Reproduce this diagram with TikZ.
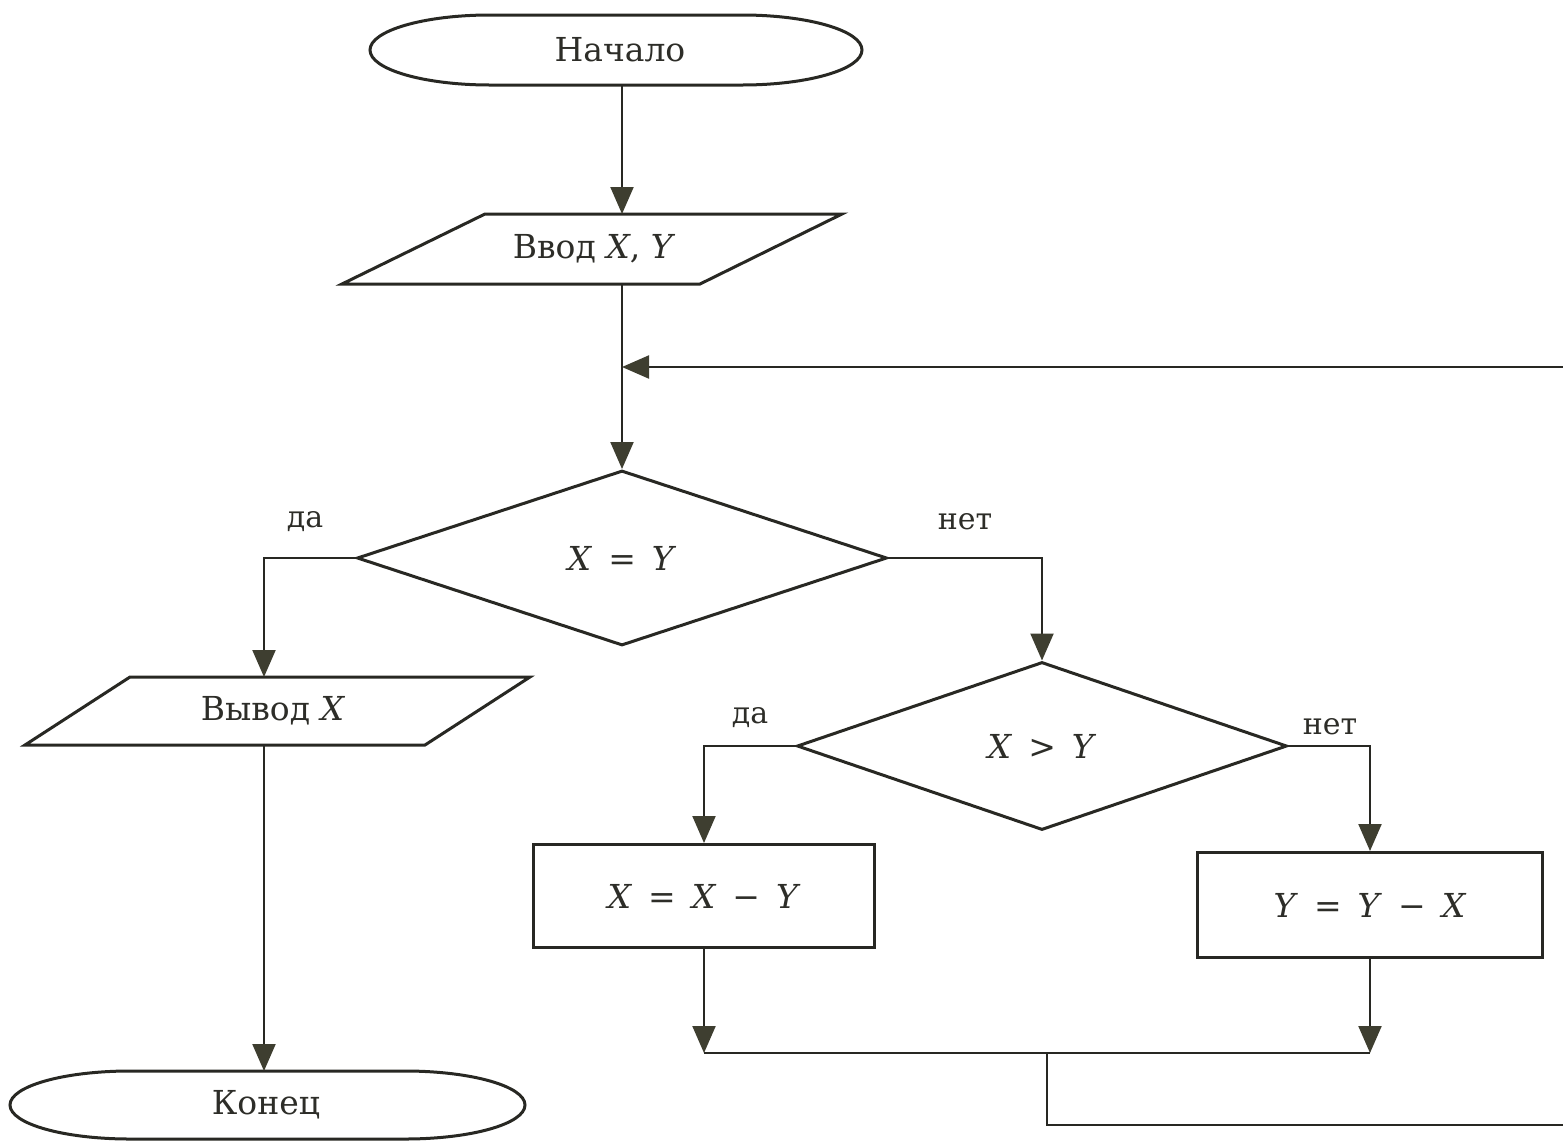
\documentclass[tikz,border=0pt]{standalone}
\usepackage{fontspec}
\setmainfont{DejaVu Serif}
\usetikzlibrary{arrows.meta,shapes.geometric}
\definecolor{lc}{RGB}{40,40,35}
\definecolor{ac}{RGB}{62,62,48}
\definecolor{tc}{RGB}{45,45,40}
\begin{document}
\begin{tikzpicture}[x=1pt,y=1pt,
  shp/.style={draw=lc, line width=3pt, line join=miter},
  conn/.style={draw=lc, line width=2.1pt},
  arr/.style={conn, -{Triangle[length=27pt,width=23pt,color=ac]}},
  txt/.style={font=\fontsize{33}{38}\selectfont, text=tc, inner sep=0pt},
  lbl/.style={font=\fontsize{30}{34}\selectfont, text=tc, inner sep=0pt},
  dia/.style={shp, diamond, txt, aspect=3},
  box/.style={shp, rectangle, txt}
]
\useasboundingbox (0,0) rectangle (1563,-1141);
\fill[white] (0,0) rectangle (1563,-1141);

% Start terminal
\draw[shp] (490,-15) -- (742,-15) arc[start angle=90,end angle=-90,x radius=120,y radius=35]
  -- (490,-85) arc[start angle=270,end angle=90,x radius=120,y radius=35] -- cycle;
\node[txt] (start) at (620,-50) {Начало};
\coordinate (startB) at (622,-85);

% Input
\draw[shp] (485,-214) -- (842,-214) -- (700,-284) -- (342,-284) -- cycle;
\node[txt] (input) at (594,-249) {Ввод \textit{X}, \textit{Y}};
\coordinate (inT) at (622,-214);
\coordinate (inB) at (622,-284);

% Condition 1
\node[dia, minimum width=530pt, minimum height=175pt] (cond1) at (622,-558) {\textit{X}\, = \,\textit{Y}};
\node[lbl] (yes1) at (305,-522) {да};
\node[lbl] (no1) at (965,-522) {нет};

% Output
\draw[shp] (130,-677) -- (530,-677) -- (425,-745) -- (25,-745) -- cycle;
\node[txt] (output) at (273,-711) {Вывод \textit{X}};
\coordinate (outT) at (264,-677);
\coordinate (outB) at (264,-745);

% End terminal
\draw[shp] (130,-1071) -- (405,-1071) arc[start angle=90,end angle=-90,x radius=120,y radius=34]
  -- (130,-1139) arc[start angle=270,end angle=90,x radius=120,y radius=34] -- cycle;
\node[txt] (stop) at (266,-1105) {Конец};
\coordinate (stopT) at (264,-1071);

% Condition 2
\node[dia, minimum width=490pt, minimum height=168pt] (cond2) at (1042,-746) {\textit{X}\, > \,\textit{Y}};
\node[lbl] (yes2) at (750,-718) {да};
\node[lbl] (no2) at (1330,-727) {нет};

% Assignments
\node[box, minimum width=341pt, minimum height=103pt] (as1) at (704,-896) {\textit{X}\, = \,\textit{X}\, − \,\textit{Y}};
\node[box, minimum width=345pt, minimum height=105pt] (as2) at (1370,-905) {\textit{Y}\, = \,\textit{Y}\, − \,\textit{X}};

% Merge and loop points
\coordinate (m1) at (704,-1053);
\coordinate (m2) at (1370,-1053);
\coordinate (mj) at (1047,-1053);
\coordinate (lb) at (1047,-1125);
\coordinate (lr) at (1563,-1125);
\coordinate (loopR) at (1563,-367);
\coordinate (loopJ) at (622,-367);

% Connectors
\draw[arr] (startB) -- (inT);
\draw[arr] (inB) -- (cond1.north);
\draw[arr] (loopR) -- (loopJ);
\draw[arr] (cond1.west) -| (outT);
\draw[arr] (cond1.east) -| (cond2.north);
\draw[arr] (outB) -- (stopT);
\draw[arr] (cond2.west) -| (as1.north);
\draw[arr] (cond2.east) -| (as2.north);
\draw[arr] (as1.south) -- (m1);
\draw[arr] (as2.south) -- (m2);
\draw[conn] (m1) -- (m2);
\draw[conn] (mj) -- (lb) -- (lr);
\end{tikzpicture}
\end{document}
